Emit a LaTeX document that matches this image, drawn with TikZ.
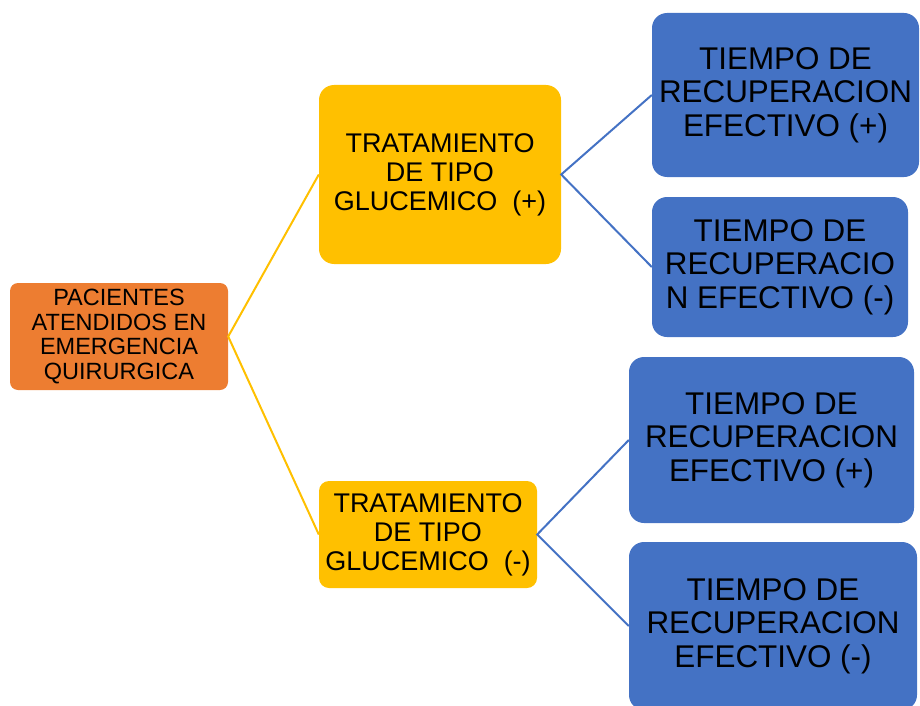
\documentclass[tikz,border=0pt]{standalone}
\usepackage{fontspec}
\setmainfont{Liberation Sans}
\definecolor{cOrange}{HTML}{ED7D31}
\definecolor{cYellow}{HTML}{FFC000}
\definecolor{cBlue}{HTML}{4472C4}
\begin{document}
\begin{tikzpicture}[x=1pt,y=-1pt,
  box/.style={rectangle, inner sep=0pt, align=center, text=black},
  rootbox/.style={box, fill=cOrange, rounded corners=8pt, font=\fontsize{23.5}{24.7}\selectfont},
  midbox/.style={box, fill=cYellow, font=\fontsize{27}{29}\selectfont},
  leafbox/.style={box, fill=cBlue, rounded corners=15pt, font=\fontsize{31.4}{33.3}\selectfont},
  yline/.style={draw=cYellow, line width=2pt},
  bline/.style={draw=cBlue, line width=2pt}]
\useasboundingbox (0,0) rectangle (920,706);
\clip (0,0) rectangle (920,706);
\node[rootbox, minimum width=218pt, minimum height=107pt] (p) at (119,336.5)
  {PACIENTES\\ATENDIDOS EN\\EMERGENCIA\\QUIRURGICA};
\node[midbox, rounded corners=15pt, minimum width=242pt, minimum height=179pt] (t1) at (440,174.5)
  {TRATAMIENTO\\DE TIPO\\GLUCEMICO\ \ (+)};
\node[midbox, rounded corners=10pt, minimum width=218pt, minimum height=107pt] (t2) at (428,534.5)
  {TRATAMIENTO\\DE TIPO\\GLUCEMICO\ \ (-)};
\node[leafbox, minimum width=267pt, minimum height=164pt] (b1) at (785.5,95)
  {TIEMPO\ DE\\RECUPERACION\\EFECTIVO (+)};
\node[leafbox, minimum width=256pt, minimum height=140pt] (b2) at (780,267)
  {TIEMPO\ DE\\RECUPERACIO\\N EFECTIVO (-)};
\node[leafbox, minimum width=285pt, minimum height=166pt] (b3) at (771.5,440)
  {TIEMPO\ DE\\RECUPERACION\\EFECTIVO (+)};
\node[leafbox, minimum width=288pt, minimum height=168pt] (b4) at (773,626)
  {TIEMPO\ DE\\RECUPERACION\\EFECTIVO (-)};
\draw[yline] (t1.west) -- (p.east) -- (t2.west);
\draw[bline] (b1.west) -- (t1.east) -- (b2.west);
\draw[bline] (b3.west) -- (t2.east) -- (b4.west);
\end{tikzpicture}
\end{document}
